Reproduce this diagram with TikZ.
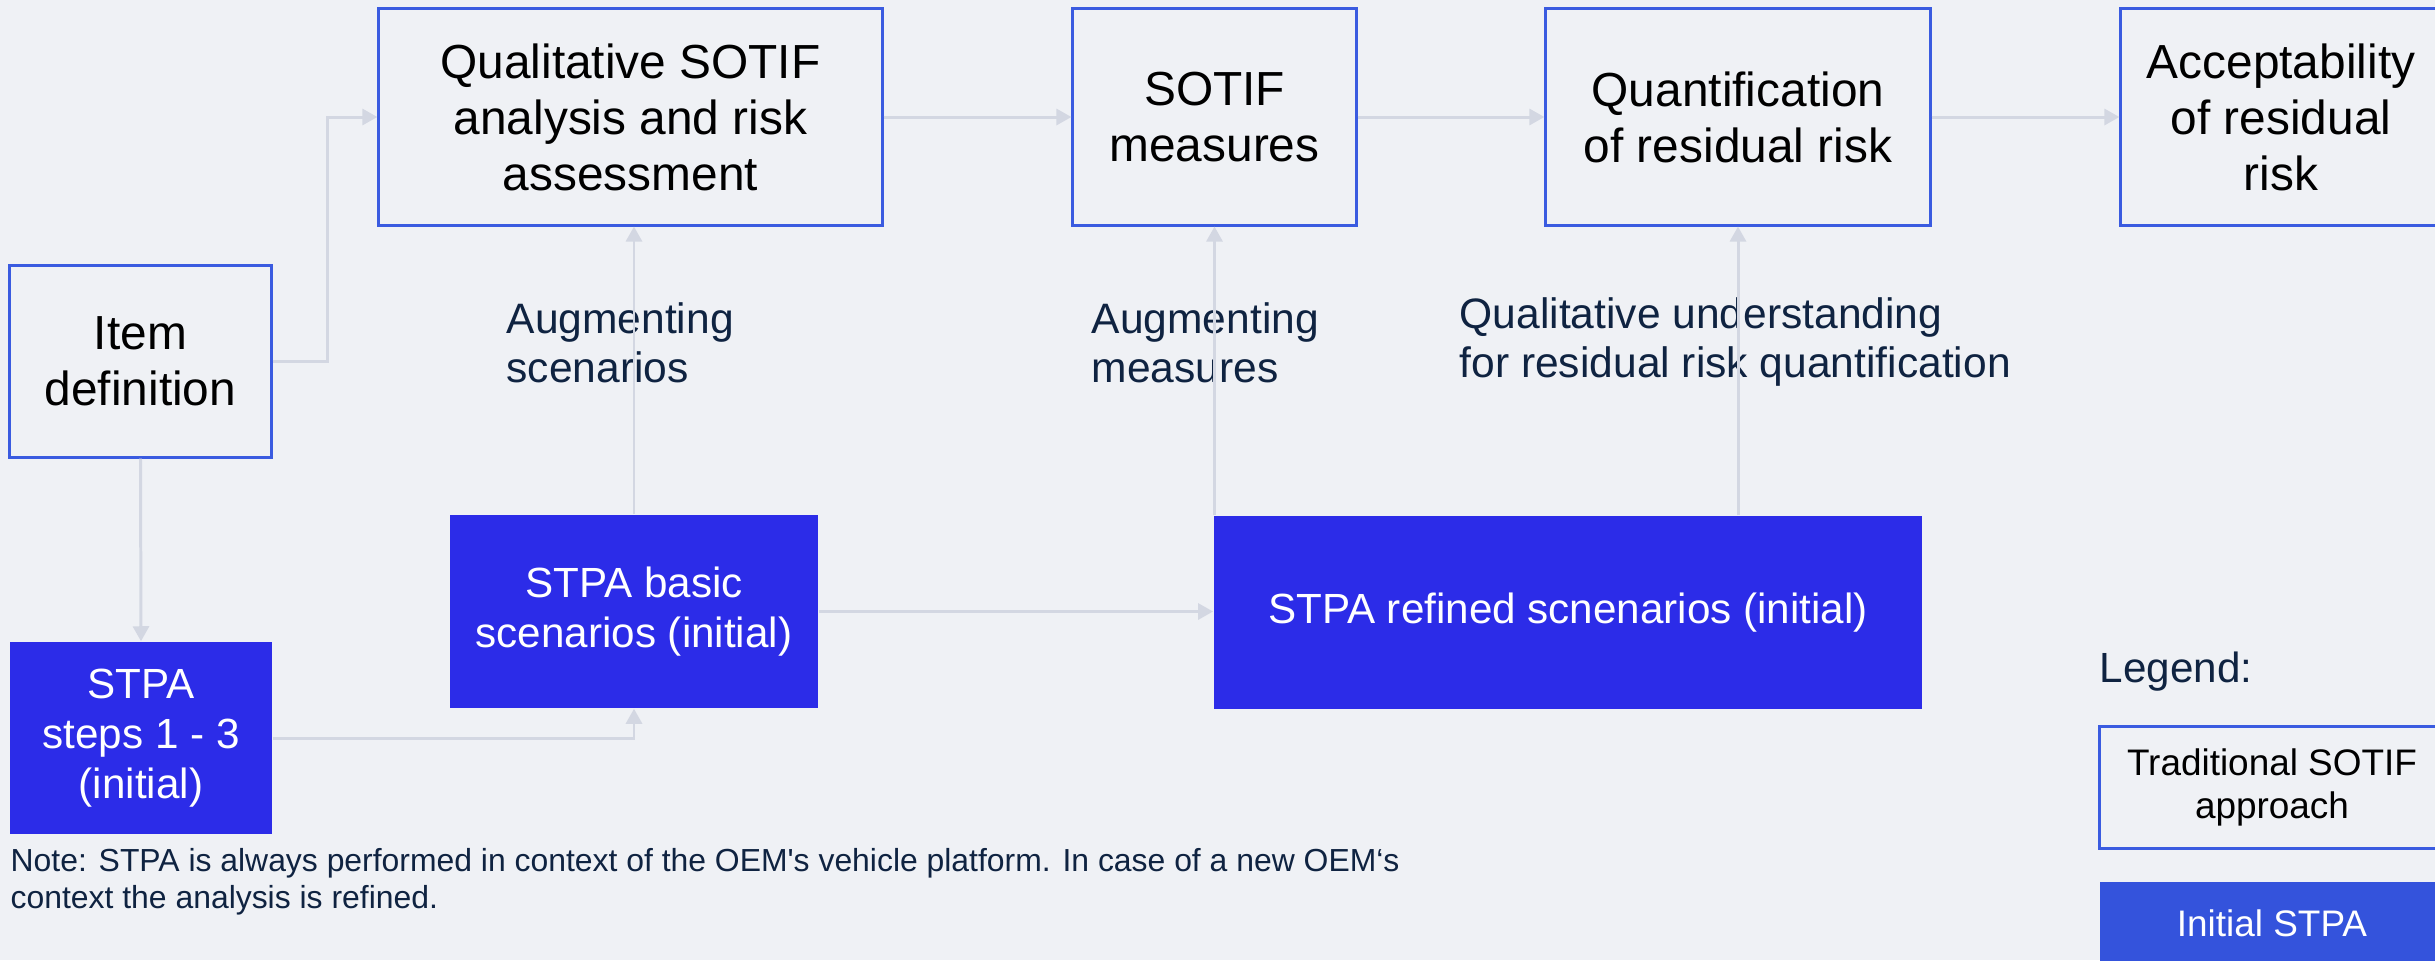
\documentclass[tikz,border=0pt]{standalone}
\usepackage{fontspec}
\setmainfont{Liberation Sans}
\usetikzlibrary{arrows.meta}
\definecolor{bg}{HTML}{EFF1F5}
\definecolor{bord}{HTML}{3A5BE0}
\definecolor{stpa}{HTML}{2C2CE8}
\definecolor{stpaleg}{HTML}{3453DC}
\definecolor{connc}{HTML}{D3D7E2}
\definecolor{navy}{HTML}{0F2341}
\begin{document}
\begin{tikzpicture}[x=0.01cm,y=-0.01cm,
  sotif/.style={draw=bord, line width=0.85pt, fill=bg, inner sep=0pt, align=center, text=black, font=\fontsize{13.6}{15.9}\selectfont},
  stpabox/.style={fill=stpa, inner sep=0pt, align=center, text=white, font=\fontsize{12}{14.2}\selectfont},
  conn/.style={draw=connc, line width=0.85pt, -{Triangle[length=0.15cm,width=0.16cm]}},
  annot/.style={text=navy, align=left, inner sep=0pt, font=\fontsize{12.1}{13.9}\selectfont},
]
\useasboundingbox (0,0) rectangle (2435,960);
\fill[bg] (0,0) rectangle (2435,960);
\clip (0,0) rectangle (2435,960);

% SOTIF boxes
\node[sotif, minimum width=2.61cm, minimum height=1.91cm] (item) at (140.5,361.5) {Item\\definition};
\node[sotif, minimum width=5.03cm, minimum height=2.16cm] (qual) at (630.5,117) {Qualitative SOTIF\\analysis and risk\\assessment};
\node[sotif, minimum width=2.83cm, minimum height=2.16cm] (meas) at (1214.5,117) {SOTIF\\measures};
\node[sotif, minimum width=3.84cm, minimum height=2.16cm] (quant) at (1738,117) {Quantification\\of residual risk};
\node[sotif, minimum width=3.20cm, minimum height=2.16cm] (accept) at (2281,117) {Acceptability\\of residual\\risk};

% STPA boxes
\node[stpabox, minimum width=2.62cm, minimum height=1.92cm] (steps) at (141,738) {STPA\\steps 1 - 3\\(initial)};
\node[stpabox, minimum width=3.68cm, minimum height=1.93cm] (basic) at (634,611.5) {STPA basic\\scenarios (initial)};
\node[stpabox, minimum width=7.08cm, minimum height=1.93cm] (refined) at (1568,612.5) {STPA refined scnenarios (initial)};

% annotations (base = baseline of last line)
\node[annot, anchor=base west] (augs) at (506,382) {Augmenting\\scenarios};
\node[annot, anchor=base west] (augm) at (1091,382) {Augmenting\\measures};
\node[annot, anchor=base west] (qualu) at (1459,377) {Qualitative understanding\\for residual risk quantification};

% connectors
\draw[conn] (item.east) -- ++(54.5,0) |- (qual.west);
\draw[conn] (qual.east) -- (meas.west);
\draw[conn] (meas.east) -- (quant.west);
\draw[conn] (quant.east) -- (accept.west);
\draw[conn] (item.south) -- (steps.north);
\draw[conn] (steps.east) -| (basic.south);
\draw[conn] (basic.north) -- (basic.north |- qual.south);
\draw[conn] (basic.east) -- (basic.east -| refined.west);
\draw[conn] (meas.south |- refined.north) -- (meas.south);
\draw[conn] (quant.south |- refined.north) -- (quant.south);

% legend
\node[text=navy, inner sep=0pt, anchor=base west, font=\fontsize{12}{14}\selectfont] (leg) at (2099,682) {Legend:};
\node[draw=bord, line width=0.85pt, fill=bg, inner sep=0pt, align=center, font=\fontsize{10.5}{12.2}\selectfont, minimum width=3.44cm, minimum height=1.21cm] (legtrad) at (2272,787.5) {Traditional SOTIF\\approach};
\node[fill=stpaleg, text=white, inner sep=0pt, font=\fontsize{10.5}{12.2}\selectfont, minimum width=3.44cm, minimum height=0.83cm] (legstpa) at (2272,923.5) {Initial STPA};

% note
\node[text=navy, align=left, inner sep=0pt, anchor=base west, font=\fontsize{9.07}{10.5}\selectfont] (note) at (10,908) {Note: STPA is always performed in context of the OEM\textquotesingle s vehicle platform. In case of a new OEM‘s\\context the analysis is refined.};
\end{tikzpicture}
\end{document}
